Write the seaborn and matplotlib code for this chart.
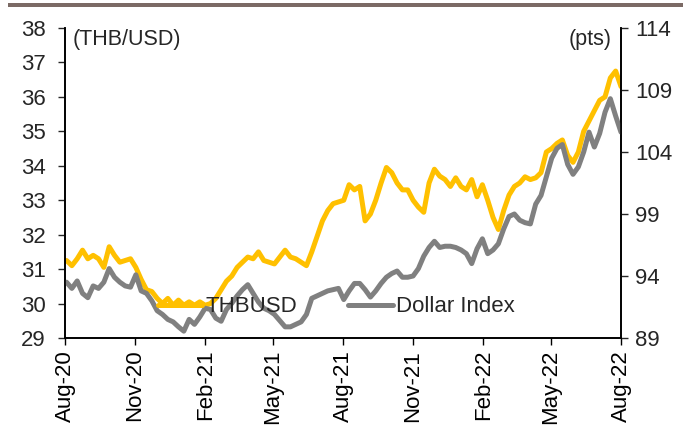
import pandas as pd
import seaborn as sns
import matplotlib.pyplot as plt
import matplotlib.dates as mdates
from matplotlib.patches import Rectangle

# weekly observations, Aug-20 to Aug-22
dates = pd.date_range("2020-08-03", periods=105, freq="7D")

thbusd = [31.25, 31.10, 31.30, 31.55, 31.30, 31.40, 31.30, 31.05, 31.65, 31.40,
          31.20, 31.25, 31.30, 31.05, 30.70, 30.40, 30.35, 30.15, 30.00, 30.15,
          29.95, 30.10, 29.95, 30.05, 29.95, 30.05, 29.95, 30.00, 30.15, 30.40,
          30.65, 30.80, 31.05, 31.20, 31.35, 31.30, 31.50, 31.25, 31.20, 31.15,
          31.35, 31.55, 31.35, 31.30, 31.20, 31.10, 31.50, 31.95, 32.40, 32.70,
          32.90, 32.95, 33.00, 33.45, 33.30, 33.40, 32.40, 32.60, 33.00, 33.50,
          33.95, 33.80, 33.50, 33.30, 33.30, 33.00, 32.80, 32.65, 33.50, 33.90,
          33.70, 33.60, 33.40, 33.65, 33.40, 33.30, 33.60, 33.10, 33.45, 33.00,
          32.50, 32.15, 32.70, 33.15, 33.40, 33.50, 33.68, 33.60, 33.65, 33.80,
          34.40, 34.50, 34.65, 34.75, 34.30, 34.10, 34.40, 35.00, 35.30, 35.60,
          35.90, 36.00, 36.55, 36.75, 36.30]

dollar_index = [93.5, 93.0, 93.6, 92.6, 92.25, 93.2, 93.0, 93.5, 94.6, 93.9,
                93.5, 93.2, 93.1, 94.1, 92.8, 92.6, 92.0, 91.2, 90.9, 90.5,
                90.3, 89.9, 89.55, 90.5, 90.1, 90.7, 91.4, 91.3, 90.6, 90.35,
                91.3, 91.8, 92.4, 92.9, 93.3, 92.6, 91.9, 91.4, 91.2, 90.9,
                90.4, 89.9, 89.9, 90.1, 90.3, 90.9, 92.2, 92.4, 92.6, 92.8,
                92.9, 93.0, 92.1, 92.8, 93.4, 93.4, 92.9, 92.3, 92.8, 93.4,
                93.9, 94.2, 94.4, 93.9, 93.9, 94.0, 94.6, 95.6, 96.3, 96.8,
                96.3, 96.4, 96.4, 96.3, 96.1, 95.8, 95.0, 96.2, 97.0, 95.8,
                96.1, 96.6, 97.8, 98.8, 99.0, 98.5, 98.3, 98.2, 99.8, 100.5,
                102.0, 103.5, 104.3, 104.6, 103.0, 102.2, 102.8, 104.0, 105.6, 104.4,
                105.5, 107.2, 108.3, 106.9, 105.6]

sns.set_style("ticks")
plt.rcParams["font.family"] = ["Liberation Sans", "DejaVu Sans"]

fig = plt.figure(figsize=(6.83, 4.32), dpi=100)
ax = fig.add_axes([65 / 683, 1 - 338 / 432, 556 / 683, 310 / 432])

sns.lineplot(x=dates, y=thbusd, ax=ax, color="#FFC000", lw=3.6, label="THBUSD")
ax2 = ax.twinx()
sns.lineplot(x=dates, y=dollar_index, ax=ax2, color="#808080", lw=3.6, label="Dollar Index")

ax.set_xlim(pd.Timestamp("2020-08-01"), pd.Timestamp("2022-08-01"))
ax.set_ylim(29, 38)
ax2.set_ylim(89, 114)
ax.set_yticks(range(29, 39))
ax2.set_yticks(range(89, 115, 5))
ax.xaxis.set_major_locator(mdates.MonthLocator(bymonth=[2, 5, 8, 11]))
ax.xaxis.set_major_formatter(mdates.DateFormatter("%b-%y"))
ax.tick_params(axis="x", rotation=90, labelsize=16, length=5, width=1, colors="black")
ax.tick_params(axis="y", labelsize=16, length=5, width=1, pad=9)
ax2.tick_params(axis="y", labelsize=16, length=5, width=1, pad=5)
ax.set_xlabel("")
ax.set_ylabel("")
ax2.set_ylabel("")

for a in (ax, ax2):
    a.spines["top"].set_visible(False)
    for s in ("left", "right", "bottom"):
        a.spines[s].set_color("black")
        a.spines[s].set_linewidth(1.2)
ax2.spines["right"].set_visible(True)

h1, l1 = ax.get_legend_handles_labels()
h2, l2 = ax2.get_legend_handles_labels()
ax.get_legend().remove()
ax2.get_legend().remove()
ax2.legend(h1 + h2, l1 + l2, loc="center left", bbox_to_anchor=(0.167, 0.1),
           ncol=2, frameon=False, fontsize=16, handlelength=2.0, handletextpad=0.15,
           columnspacing=2.3, borderpad=0, borderaxespad=0)

ax.text(0.013, 0.998, "(THB/USD)", transform=ax.transAxes, ha="left", va="top", fontsize=15.5)
ax.text(0.984, 0.998, "(pts)", transform=ax.transAxes, ha="right", va="top", fontsize=15.5)

# thin band along the top edge
fig.add_artist(Rectangle((8 / 683, 1 - 7 / 432), 1, 4 / 432, transform=fig.transFigure,
                         color="#7B6A65", lw=0))

fig.savefig("out.png", dpi=100)
